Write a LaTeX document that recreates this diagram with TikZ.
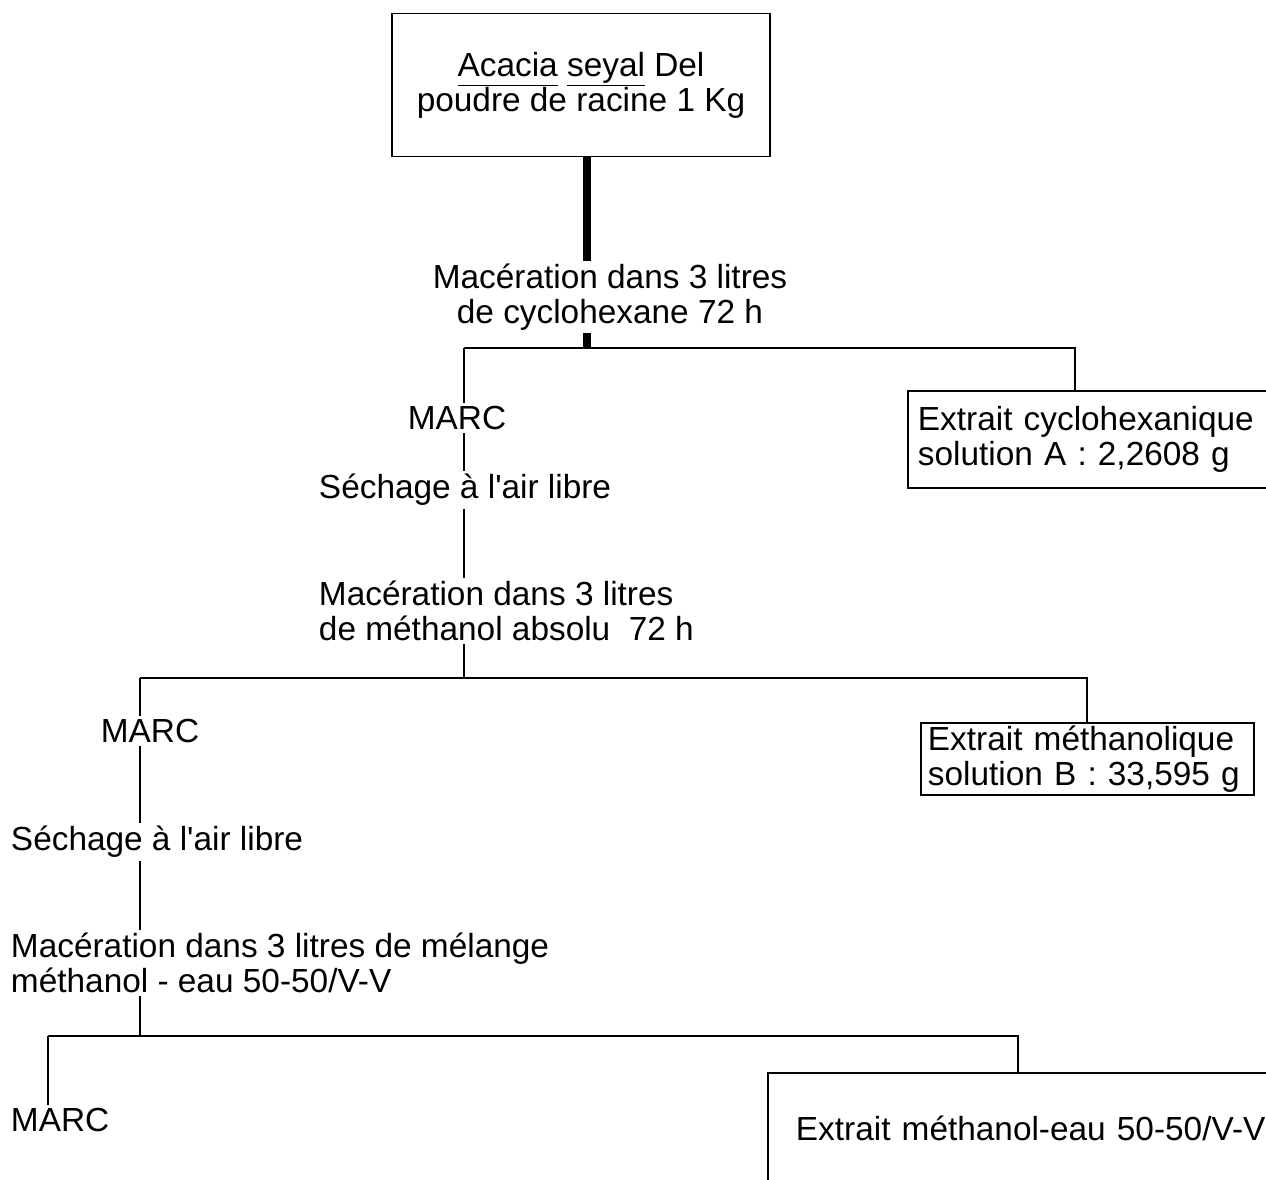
\documentclass[tikz,border=0pt]{standalone}
\usepackage{fontspec}
\setmainfont{Liberation Sans}
\usetikzlibrary{positioning}

\begin{document}
\begin{tikzpicture}[
    every node/.style={font=\fontsize{19}{20}\selectfont, inner sep=1.5pt},
    trait/.style={line width=1.1pt},
    gros/.style={line width=4.2pt},
    texte/.style={align=left, anchor=west},
    boite/.style={draw, line width=1.1pt, align=left, anchor=north west, inner xsep=0.2cm}]
  % === repère en pixels de la figure (1266 x 1179) ===
  \begin{scope}[x=0.02cm, y=-0.02cm]
    \useasboundingbox (0,0) rectangle (1266,1179);
    \clip (0,0) rectangle (1266,1179);

    % matière de départ
    \node[draw, line width=1.1pt, minimum width=7.56cm, minimum height=2.86cm, align=center] (racine) at (581,85)
      {\underline{\vphantom{y}Acacia} \underline{seyal} Del\\poudre de racine 1 Kg};

    % === 1re macération : cyclohexane ===
    \node[align=center] (mac1) at (610,297) {Macération dans 3 litres\\de cyclohexane 72 h};
    \coordinate (j1) at (587,348);
    \coordinate (j1g) at (464,348);
    \coordinate (j1d) at (1075,348);
    \node (marc1) at (457,418) {MARC};
    \node[texte] (sech1) at (316,490) {Séchage à l\textquotesingle air libre};
    \node[texte] (mac2) at (316,611) {Macération dans 3 litres\\de méthanol absolu~~72 h};
    \node[boite, text width=7.6cm, minimum height=1.94cm] (extA) at (907,390)
      {Extrait cyclohexanique\\solution A : 2,2608 g};

    \draw[gros] (racine.south -| j1) -- (mac1.north -| j1);
    \draw[gros] (mac1.south -| j1) -- (j1);
    \draw[trait] (j1g) -- (j1d) -- (extA.north west -| j1d);
    \draw[trait] (j1g) -- (marc1.north -| j1g);
    \draw[trait] (marc1.south -| j1g) -- (sech1.north -| j1g);
    \draw[trait] (sech1.south -| j1g) -- (mac2.north -| j1g);

    % === 2e macération : méthanol ===
    \coordinate (j2) at (464,678);
    \coordinate (j2g) at (140,678);
    \coordinate (j2d) at (1087,678);
    \node (marc2) at (150,731) {MARC};
    \node[texte] (sech2) at (8,842) {Séchage à l\textquotesingle air libre};
    \node[texte] (mac3) at (8,963) {Macération dans 3 litres de mélange\\méthanol - eau 50-50/V-V};
    \node[boite, text width=6.38cm, minimum height=1.42cm, inner xsep=0.14cm] (extB) at (920,722)
      {Extrait méthanolique\\solution B : 33,595 g};

    \draw[trait] (mac2.south -| j2) -- (j2);
    \draw[trait] (j2g) -- (j2d) -- (extB.north west -| j2d);
    \draw[trait] (j2g) -- (marc2.north -| j2g);
    \draw[trait] (marc2.south -| j2g) -- (sech2.north -| j2g);
    \draw[trait] (sech2.south -| j2g) -- (mac3.north -| j2g);

    % === 3e macération : méthanol-eau ===
    \coordinate (j3) at (140,1036);
    \coordinate (j3g) at (48,1036);
    \coordinate (j3d) at (1018,1036);
    \node[anchor=west] (marc3) at (8,1120) {MARC};
    \node[boite, text width=9.5cm, minimum height=2.2cm, inner xsep=0.56cm] (extC) at (767,1072)
      {Extrait méthanol-eau 50-50/V-V};

    \draw[trait] (mac3.south -| j3) -- (j3);
    \draw[trait] (j3g) -- (j3d) -- (extC.north west -| j3d);
    \draw[trait] (j3g) -- (marc3.north -| j3g);
  \end{scope}
\end{tikzpicture}
\end{document}
